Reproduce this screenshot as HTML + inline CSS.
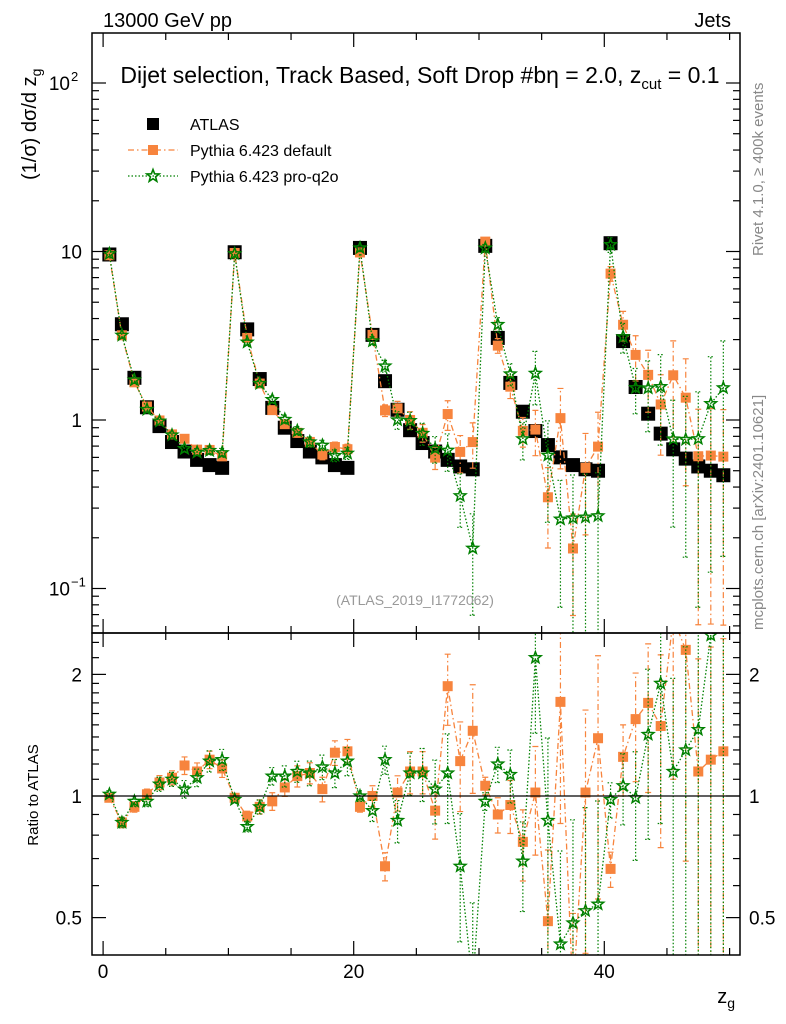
<!DOCTYPE html>
<html><head><meta charset="utf-8">
<style>
html,body{margin:0;padding:0;background:#fff;width:786px;height:1024px;overflow:hidden;position:relative;}
svg{position:absolute;left:0;top:0;display:block;font-family:"Liberation Sans",sans-serif;overflow:hidden;}
script{display:none;}
</style></head>
<body>
<svg id="c" width="786" height="1024" viewBox="0 0 786 1024">
<defs>
<clipPath id="cu"><rect x="92" y="33" width="648" height="600"/></clipPath>
<clipPath id="cl"><rect x="92" y="633" width="648" height="322"/></clipPath>
</defs>
<g id="marksU" clip-path="url(#cu)"></g>
<g id="marksL" clip-path="url(#cl)"></g>
<g id="axes"></g>
<text x="103" y="27" font-size="20">13000 GeV pp</text>
<text x="731" y="27" font-size="20" text-anchor="end">Jets</text>
<text x="420" y="83" font-size="23" text-anchor="middle">Dijet selection, Track Based, Soft Drop #bη = 2.0, z<tspan font-size="15" dy="6">cut</tspan><tspan dy="-6"> = 0.1</tspan></text>
<g>
<rect x="147" y="118" width="12" height="12" fill="#000"/>
<text x="190" y="130" font-size="16">ATLAS</text>
<line x1="128" y1="150" x2="178" y2="150" stroke="#f7843d" stroke-width="1.3" stroke-dasharray="6,3,1.5,3"/>
<rect x="148" y="145" width="10" height="10" fill="#f7843d"/>
<text x="190" y="156" font-size="16">Pythia 6.423 default</text>
<line x1="128" y1="176" x2="178" y2="176" stroke="#008000" stroke-width="1.3" stroke-dasharray="1.5,2"/>
<path id="legstar" d="" fill="none" stroke="#008000" stroke-width="1.6"/>
<text x="190" y="182" font-size="16">Pythia 6.423 pro-q2o</text>
</g>
<text transform="translate(36,180) rotate(-90)" font-size="20">(1/σ) dσ/d z<tspan font-size="14" dy="5">g</tspan></text>
<text transform="translate(38,795) rotate(-90)" font-size="15" text-anchor="middle">Ratio to ATLAS</text>
<text x="735" y="1003" font-size="20" text-anchor="end">z<tspan font-size="14" dy="5">g</tspan></text>
<text transform="translate(763,256) rotate(-90)" font-size="15" fill="#888">Rivet 4.1.0, ≥ 400k events</text>
<text transform="translate(763,630) rotate(-90)" font-size="15" fill="#888">mcplots.cern.ch [arXiv:2401.10621]</text>
<text x="415" y="605" font-size="14" fill="#999" text-anchor="middle">(ATLAS_2019_I1772062)</text>
</svg>
<script>
const zg = [];
for (let i = 0; i < 50; i++) zg.push(i + 0.5);
const atlas = [9.6,3.7,1.78,1.19,0.92,0.74,0.65,0.58,0.54,0.52,
 9.9,3.45,1.75,1.18,0.9,0.75,0.65,0.6,0.54,0.52,
 10.5,3.2,1.7,1.15,0.87,0.73,0.65,0.58,0.53,0.51,
 10.8,3.07,1.66,1.12,0.86,0.71,0.6,0.54,0.51,0.5,
 11.2,2.94,1.57,1.09,0.83,0.67,0.59,0.53,0.5,0.47];
const ratioDefault = [0.99,0.86,0.94,1.01,1.08,1.11,1.19,1.15,1.23,1.17,
 0.99,0.89,0.94,0.97,1.05,1.12,1.14,1.04,1.28,1.29,
 0.94,1.0,0.67,1.02,1.15,1.15,0.92,1.87,1.22,1.45,
 1.06,0.9,0.95,0.77,1.02,0.49,1.71,0.32,1.02,1.39,
 0.66,1.25,1.55,1.7,1.49,2.75,2.3,1.15,1.23,1.29];
const ratioProq2o = [1.01,0.86,0.97,0.97,1.07,1.1,1.04,1.11,1.22,1.23,
 0.98,0.84,0.94,1.12,1.12,1.15,1.14,1.18,1.14,1.22,
 1.0,0.92,1.23,0.87,1.14,1.14,1.04,1.14,0.67,0.34,
 0.97,1.2,1.13,0.69,2.2,0.87,0.43,0.485,0.52,0.54,
 0.98,1.06,0.99,1.42,1.9,1.15,1.3,1.46,2.5,3.3];
const errDefault = [0.02,0.03,0.03,0.03,0.04,0.04,0.05,0.05,0.05,0.05,
 0.02,0.03,0.04,0.05,0.05,0.06,0.06,0.07,0.07,0.07,
 0.03,0.06,0.08,0.1,0.12,0.12,0.15,0.2,0.25,0.3,
 0.05,0.1,0.15,0.2,0.3,0.5,0.5,0.6,0.6,0.6,
 0.1,0.2,0.3,0.4,0.5,0.6,0.7,0.9,0.9,0.9];
const errProq2o = [0.02,0.03,0.03,0.03,0.04,0.04,0.05,0.05,0.06,0.06,
 0.02,0.03,0.04,0.05,0.06,0.06,0.07,0.07,0.08,0.08,
 0.03,0.06,0.08,0.12,0.12,0.15,0.18,0.25,0.35,0.6,
 0.05,0.1,0.15,0.25,0.35,0.6,0.7,0.8,0.8,0.8,
 0.1,0.2,0.3,0.45,0.55,0.7,0.8,0.9,0.9,0.9];
const upperTicks = [0.1,1,10,100];
const upperTickLabels = ["10","1","10","10"];
const upperTickExp = ["−1","","","2"];
const ratioTicks = [0.5,1,2];
const ratioTickLabels = ["0.5","1","2"];
const xTicks = [0,20,40];
const xTickLabels = ["0","20","40"];

const NS="http://www.w3.org/2000/svg";
const X0=92,X1=740,UY0=33,UY1=633,LY0=633,LY1=955;
const xs=v=>103.1+12.53*v;
const yu=v=>420-168.5*Math.log10(v);
const yr=v=>796-404*Math.log10(v);
function mk(tag,attrs,parent){const e=document.createElementNS(NS,tag);for(const k in attrs)e.setAttribute(k,attrs[k]);parent.appendChild(e);return e;}
function star(cx,cy,r){let d="";for(let k=0;k<10;k++){const a=-Math.PI/2+k*Math.PI/5;const rr=k%2?r*0.42:r;d+=(k?"L":"M")+(cx+rr*Math.cos(a)).toFixed(1)+","+(cy+rr*Math.sin(a)).toFixed(1);}return d+"Z";}
document.getElementById('legstar').setAttribute('d',star(153,176,6.5));

const axes=document.getElementById('axes');
let f=mk('rect',{x:X0,y:UY0,width:X1-X0,height:UY1-UY0,fill:"none",stroke:"#000","stroke-width":1.5},axes);


f=mk('rect',{x:X0,y:LY0,width:X1-X0,height:LY1-LY0,fill:"none",stroke:"#000","stroke-width":1.5},axes);


let l=mk('line',{x1:X0,x2:X1,y1:yr(1),y2:yr(1),stroke:"#000","stroke-width":1.2},axes);


for(let v=0;v<=50;v+=5){const major=v%20===0;const x=xs(v);const len=major?14:7;
 [[UY1,-1],[UY0,1],[LY1,-1],[LY0,1]].forEach(([y,s])=>{const t=mk('line',{x1:x,x2:x,y1:y,y2:y+s*len,stroke:"#000","stroke-width":1.2},axes);});}
xTicks.forEach((v,i)=>{const t=mk('text',{x:xs(v),y:978,"font-size":19,"text-anchor":"middle"},axes);t.textContent=xTickLabels[i];});
for(let e=-2;e<=2;e++){for(let m=1;m<10;m++){const v=m*Math.pow(10,e);const y=yu(v);if(y<UY0||y>UY1)continue;const len=m===1?14:7;
 [[X0,1],[X1,-1]].forEach(([x,s])=>{const t=mk('line',{x1:x,x2:x+s*len,y1:y,y2:y,stroke:"#000","stroke-width":1.2},axes);});}}
upperTicks.forEach((v,i)=>{const t=mk('text',{x:upperTickExp[i]?70:82,y:yu(v)+7,"font-size":19,"text-anchor":"end"},axes);t.textContent=upperTickLabels[i];
 if(upperTickExp[i]){const s=mk('text',{x:71,y:yu(v)-2,"font-size":13},axes);s.textContent=upperTickExp[i];}});
const rt=[0.5,0.6,0.7,0.8,0.9,1,1.1,1.2,1.3,1.4,1.5,1.6,1.7,1.8,1.9,2,2.2,2.4];
rt.forEach(v=>{const y=yr(v);if(y<LY0||y>LY1)return;const len=ratioTicks.includes(v)?14:7;
 [[X0,1],[X1,-1]].forEach(([x,s])=>{const t=mk('line',{x1:x,x2:x+s*len,y1:y,y2:y,stroke:"#000","stroke-width":1.2},axes);});});
ratioTicks.forEach((v,i)=>{[[82,"end"],[749,"start"]].forEach(([x,a])=>{const t=mk('text',{x:x,y:yr(v)+7,"font-size":19,"text-anchor":a},axes);t.textContent=ratioTickLabels[i];});});

const OR="#f7843d",GR="#008000";
function series(parent,yf,vals,errs,color,dash,kind,name){
 const g=mk('g',{},parent);
 
 
 const pts=vals.map((v,i)=>[xs(zg[i]),yf(v)]);
 if(kind!=="big"){
  const ln=mk('polyline',{points:pts.map(p=>p.join(",")).join(" "),fill:"none",stroke:color,"stroke-width":1.3,"stroke-dasharray":dash},g);
  
  
 }
 vals.forEach((v,i)=>{const x=pts[i][0];
  if(errs){const lo=Math.max(v*(1-errs[i]),v*0.01),hi=v*(1+errs[i]);
   const eb=mk('path',{d:`M${x},${yf(lo)}V${yf(hi)}M${x-3},${yf(lo)}h6M${x-3},${yf(hi)}h6`,stroke:color,"stroke-width":1.2,"stroke-dasharray":dash,fill:"none"},g);
   
   }
  let m;
  if(kind==="big") m=mk('rect',{x:x-7,y:pts[i][1]-7,width:14,height:14,fill:"#000"},g);
  else if(kind==="sq") m=mk('rect',{x:x-5,y:pts[i][1]-5,width:10,height:10,fill:color},g);
  else m=mk('path',{d:star(x,pts[i][1],6),fill:"none",stroke:color,"stroke-width":1.5},g);
  
  });
}
const U=document.getElementById('marksU'),L=document.getElementById('marksL');
const defVals=atlas.map((a,i)=>a*ratioDefault[i]);
const proVals=atlas.map((a,i)=>a*ratioProq2o[i]);
series(U,yu,atlas,null,"#000","","big","atlas-series");
series(U,yu,defVals,errDefault,OR,"6,3,1.5,3","sq","default-series");
series(U,yu,proVals,errProq2o,GR,"1.5,2","star","proq2o-series");
series(L,yr,ratioDefault,errDefault,OR,"6,3,1.5,3","sq","default-ratio");
series(L,yr,ratioProq2o,errProq2o,GR,"1.5,2","star","proq2o-ratio");
</script>
</body></html>
